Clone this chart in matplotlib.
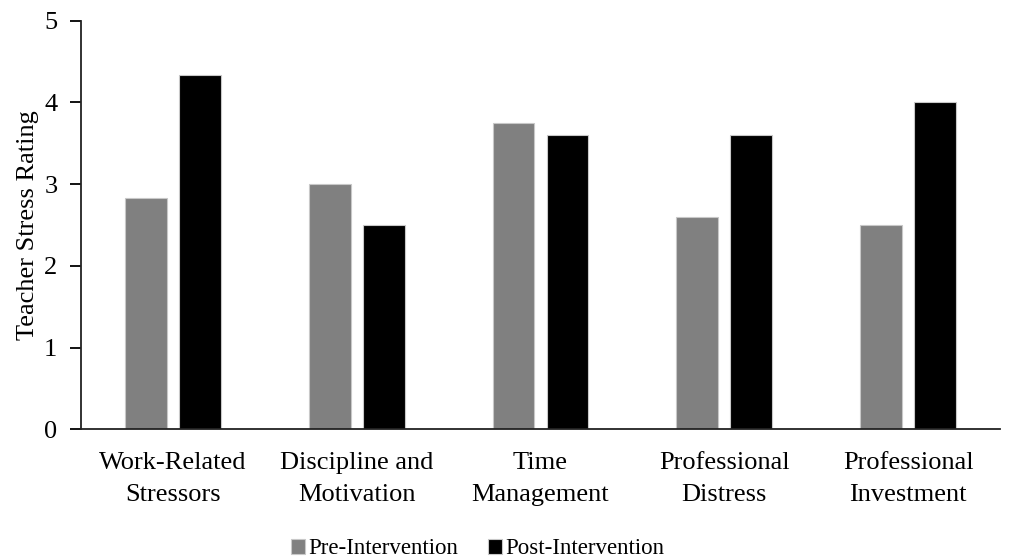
import matplotlib
matplotlib.use("Agg")
import matplotlib.pyplot as plt
import numpy as np

categories = ["Work-Related\nStressors", "Discipline and\nMotivation", "Time\nManagement",
              "Professional\nDistress", "Professional\nInvestment"]
pre_values = [2.83, 3.0, 3.75, 2.6, 2.5]
post_values = [4.33, 2.5, 3.6, 3.6, 4.0]
series_labels = ["Pre-Intervention", "Post-Intervention"]
y_ticks = [0, 1, 2, 3, 4, 5]

plt.rcParams["font.family"] = ["Liberation Serif", "DejaVu Serif"]

fig = plt.figure(figsize=(10.11, 5.58), dpi=100)
ax = fig.add_axes([81 / 1011, 1 - 429.3 / 558, (1000 - 81) / 1011, (429.3 - 20.7) / 558])

x = np.arange(len(categories))
w = 0.228
off = 0.147
ax.bar(x - off, pre_values, w, color="#808080", edgecolor="#c8c8c8", linewidth=0.8,
       label=series_labels[0])
ax.bar(x + off, post_values, w, color="#000000", edgecolor="#c8c8c8", linewidth=0.8,
       label=series_labels[1])

ax.set_xlim(-0.5, len(categories) - 0.5)
ax.set_ylim(0, 5)
ax.set_yticks(y_ticks)
ax.set_xticks(x)
ax.set_xticklabels(categories, fontsize=19, linespacing=1.6)
ax.tick_params(axis="x", length=0, pad=16)
ax.tick_params(axis="y", length=8, width=1.3, labelsize=19, pad=9)
ax.set_ylabel("Teacher Stress Rating", fontsize=19, labelpad=4)

for s in ["top", "right"]:
    ax.spines[s].set_visible(False)
for s in ["left", "bottom"]:
    ax.spines[s].set_linewidth(1.3)
    ax.spines[s].set_color("#222222")

handles, labels = ax.get_legend_handles_labels()
fig.legend(handles, labels, loc="center", bbox_to_anchor=(478 / 1011, 1 - 549 / 558),
           ncol=2, frameon=False, fontsize=16.5, handlelength=0.6, handleheight=0.6,
           handletextpad=0.15, columnspacing=1.3, borderpad=0)

fig.savefig("out.png", dpi=100)
